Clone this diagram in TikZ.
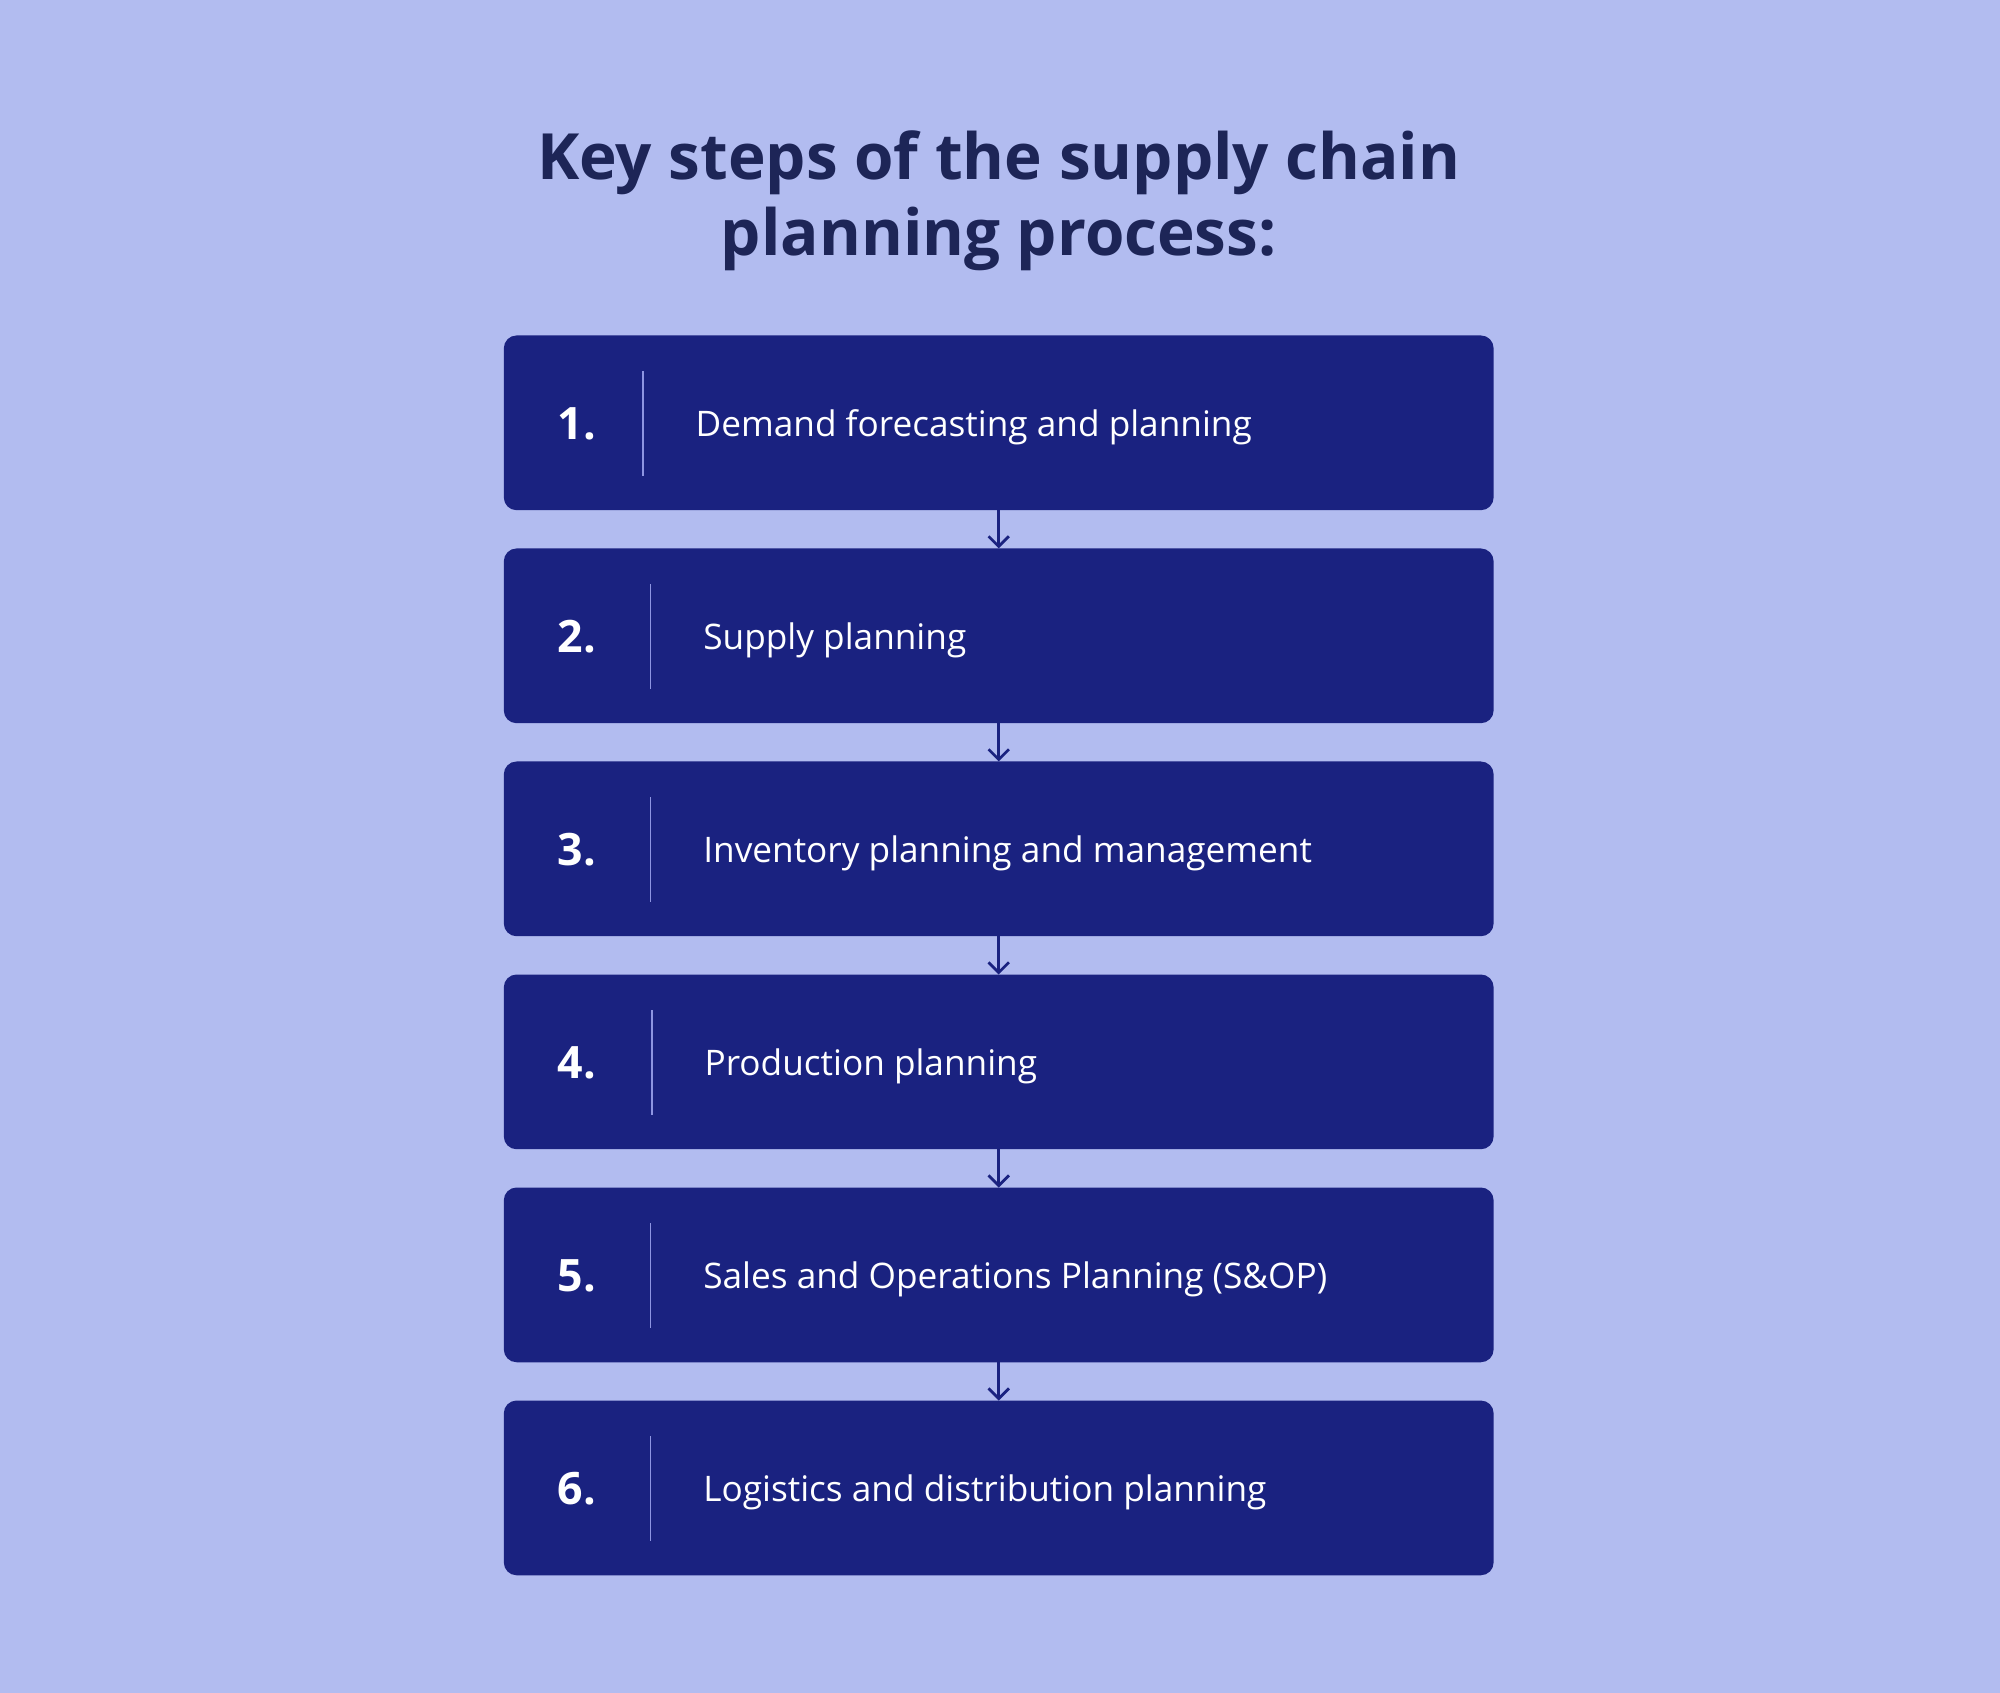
\documentclass[tikz,border=0pt]{standalone}
\usepackage{fontspec}
\setmainfont{Open Sans}
\usetikzlibrary{arrows.meta}
\definecolor{bgc}{HTML}{B2BCF0}
\definecolor{boxc}{HTML}{1A2280}
\definecolor{titlec}{HTML}{1D2557}
\definecolor{divc}{HTML}{8E95E2}
\tikzset{
  stepbox/.style={fill=boxc, rounded corners=5pt, draw=none},
  numtext/.style={anchor=base west, inner sep=0pt, text=white, font=\fontsize{17.5}{20}\selectfont\bfseries},
  steptext/.style={anchor=base west, inner sep=0pt, text=white, font=\fontsize{13.8}{16}\selectfont},
  titletext/.style={anchor=base, inner sep=0pt, text=titlec, font=\fontsize{25}{30}\selectfont\bfseries},
  divline/.style={draw=divc, line width=0.6pt},
  flow/.style={draw=boxc, line width=1.1pt, -{Straight Barb[length=4pt,width=8pt,line width=1.1pt]}}
}
\begin{document}
\begin{tikzpicture}[x=0.5pt,y=-0.5pt]
\fill[bgc] (0,0) rectangle (1568,1327);
\useasboundingbox (0,0) rectangle (1568,1327);
\node[titletext] (t1) at (783,140.5) {Key steps of the supply chain};
\node[titletext] (t2) at (783,200.5) {planning process:};
\foreach \i/\num/\dx/\txt in {
  1/1./504/Demand forecasting and planning,
  2/2./510/Supply planning,
  3/3./510/Inventory planning and management,
  4/4./511/Production planning,
  5/5./510/Sales and Operations Planning (S\&OP),
  6/6./510/Logistics and distribution planning}{
  \pgfmathsetmacro{\top}{263+167*(\i-1)}
  \path[stepbox] (395,\top) rectangle (1171,\top+137);
  \coordinate (b\i top) at (783,\top);
  \coordinate (b\i bot) at (783,\top+137);
  \draw[divline] (\dx,\top+28) -- (\dx,\top+110);
  \node[numtext] (n\i) at (437,\top+81.5) {\num};
  \node[steptext] (s\i) at (\dx+41,\top+79) {\txt};
}
\foreach \a/\b in {1/2,2/3,3/4,4/5,5/6}{
  \draw[flow] (b\a bot) -- (b\b top);
}
\end{tikzpicture}
\end{document}
